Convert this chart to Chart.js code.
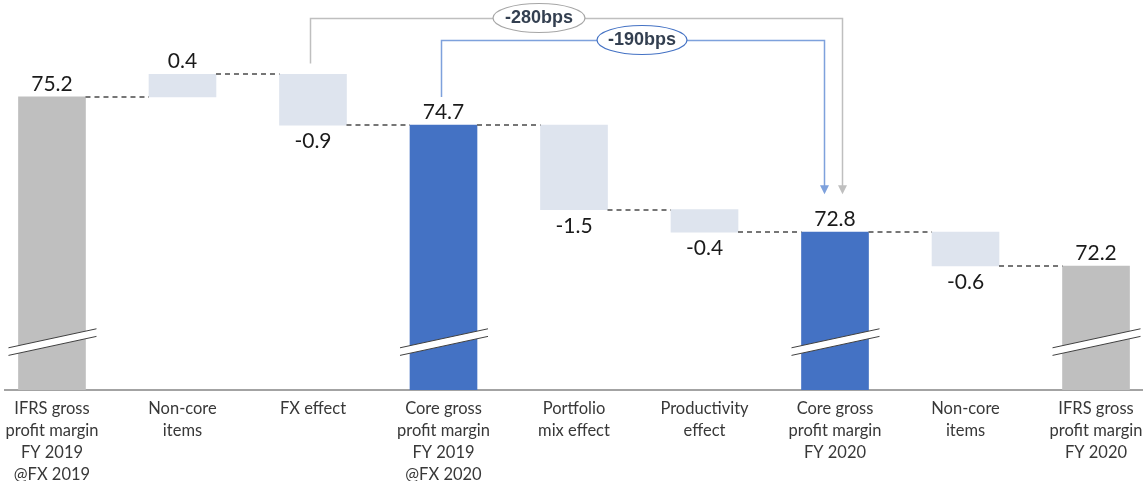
<!DOCTYPE html>
<html>
<head>
<meta charset="utf-8">
<script src="https://cdn.jsdelivr.net/npm/chart.js@4/dist/chart.umd.min.js"></script>
<style>
    html, body { margin: 0; padding: 0; background: #fff; }
    #wrap { width: 1143px; height: 481px; }
</style>
</head>
<body>
<div id="wrap"><canvas id="marginBridge" width="1143" height="481"></canvas></div>
<script>
// Gross margin bridge, FY 2019 -> FY 2020 (in %)
const categories = [
    ['IFRS gross', 'profit margin', 'FY 2019', '@FX 2019'],
    ['Non-core', 'items'],
    ['FX effect'],
    ['Core gross', 'profit margin', 'FY 2019', '@FX 2020'],
    ['Portfolio', 'mix effect'],
    ['Productivity', 'effect'],
    ['Core gross', 'profit margin', 'FY 2020'],
    ['Non-core', 'items'],
    ['IFRS gross', 'profit margin', 'FY 2020']
];
const values = [75.2, 0.4, -0.9, 74.7, -1.5, -0.4, 72.8, -0.6, 72.2];
const barKinds = ['total', 'delta', 'delta', 'core', 'delta', 'delta', 'core', 'delta', 'total'];
const axisFloor = 70;
const bridgeLabels = ['-280bps', '-190bps'];
const bridgeFrom = [2, 3];
const bridgeTo = [6, 6];

const kindColors = { total: '#bfbfbf', core: '#4472c4', delta: '#dee4ee' };

// running level -> floating spans
let level = 0;
const spans = [];
const levels = [];
values.forEach((v, i) => {
    if (barKinds[i] === 'delta') {
        spans.push([level, level + v]);
        level += v;
    } else {
        spans.push([axisFloor, v]);
        level = v;
    }
    levels.push(level);
});

const labelAbove = (i) => barKinds[i] !== 'delta' || values[i] > 0;

const waterfallExtras = {
    id: 'waterfallExtras',
    afterDatasetsDraw(chart) {
        const ctx = chart.ctx;
        const yScale = chart.scales.y;
        const bars = chart.getDatasetMeta(0).data;
        const half = (el) => el.width / 2;

        ctx.save();

        // dashed connectors between bars
        ctx.strokeStyle = '#767676';
        ctx.lineWidth = 2;
        ctx.setLineDash([5, 4]);
        for (let i = 0; i < bars.length - 1; i++) {
            const y = Math.round(yScale.getPixelForValue(levels[i]));
            ctx.beginPath();
            ctx.moveTo(bars[i].x + half(bars[i]), y);
            ctx.lineTo(bars[i + 1].x - half(bars[i + 1]), y);
            ctx.stroke();
        }
        ctx.setLineDash([]);

        // axis break marks on the full bars
        const breakY = yScale.getPixelForValue(70.85);
        bars.forEach((el, i) => {
            if (barKinds[i] === 'delta') return;
            const x0 = el.x - half(el) - 10, x1 = el.x + half(el) + 11;
            const dy = 9.5, gap = 3.8;
            ctx.beginPath();
            ctx.moveTo(x0, breakY + dy - gap);
            ctx.lineTo(x1, breakY - dy - gap);
            ctx.lineTo(x1, breakY - dy + gap);
            ctx.lineTo(x0, breakY + dy + gap);
            ctx.closePath();
            ctx.fillStyle = '#fff';
            ctx.fill();
            ctx.strokeStyle = '#404040';
            ctx.lineWidth = 1;
            ctx.beginPath();
            ctx.moveTo(x0, breakY + dy - gap);
            ctx.lineTo(x1, breakY - dy - gap);
            ctx.moveTo(x0, breakY + dy + gap);
            ctx.lineTo(x1, breakY - dy + gap);
            ctx.stroke();
        });

        // value labels
        ctx.font = '21px Lato';
        ctx.fillStyle = '#1a1a1a';
        ctx.textAlign = 'center';
        ctx.textBaseline = 'alphabetic';
        bars.forEach((el, i) => {
            const top = Math.min(el.y, el.base);
            const bottom = Math.max(el.y, el.base);
            const txt = values[i].toFixed(1);
            if (labelAbove(i)) ctx.fillText(txt, el.x, top - 6);
            else ctx.fillText(txt, el.x, bottom + 23);
        });

        // bps brackets
        const styles = [
            { color: '#bfbfbf', ring: '#a6a6a6', topY: 18.5, endDx: 7, rx: 46, ry: 14.5, cx: 539 },
            { color: '#7ea1dc', ring: '#4472c4', topY: 40.5, endDx: -11, rx: 45, ry: 14.5, cx: 642 }
        ];
        const tipY = yScale.getPixelForValue(values[6]) - 38;
        bridgeLabels.forEach((label, k) => {
            const s = styles[k];
            const a = bars[bridgeFrom[k]], b = bars[bridgeTo[k]];
            const startTop = Math.min(a.y, a.base) - (labelAbove(bridgeFrom[k]) ? 28 : 11);
            const xa = Math.round(a.x) - 1.5 + (k === 0 ? -1 : 0);
            const xb = Math.round(b.x + s.endDx) + 0.5;
            ctx.strokeStyle = s.color;
            ctx.lineWidth = 1.5;
            ctx.beginPath();
            ctx.moveTo(xa, startTop);
            ctx.lineTo(xa, s.topY);
            ctx.lineTo(xb, s.topY);
            ctx.lineTo(xb, tipY - 7);
            ctx.stroke();
            ctx.fillStyle = s.color;
            ctx.beginPath();
            ctx.moveTo(xb - 4.5, tipY - 9);
            ctx.lineTo(xb + 4.5, tipY - 9);
            ctx.lineTo(xb, tipY);
            ctx.closePath();
            ctx.fill();

            ctx.beginPath();
            ctx.ellipse(s.cx, s.topY - 0.5, s.rx, s.ry, 0, 0, Math.PI * 2);
            ctx.fillStyle = '#fff';
            ctx.fill();
            ctx.strokeStyle = s.ring;
            ctx.lineWidth = 1.2;
            ctx.stroke();
            ctx.font = 'bold 18px "Liberation Sans"';
            ctx.fillStyle = '#333f50';
            ctx.textBaseline = 'middle';
            ctx.fillText(label, s.cx, s.topY);
        });

        ctx.restore();
    }
};

new Chart(document.getElementById('marginBridge'), {
    type: 'bar',
    data: {
        datasets: [{
            data: spans.map((s, i) => ({ x: i, y: s })),
            backgroundColor: barKinds.map(k => kindColors[k]),
            borderWidth: 0,
            barThickness: 67,
            grouped: false
        }]
    },
    options: {
        responsive: false,
        animation: false,
        layout: { padding: { left: 5, right: 0, top: 0, bottom: 0 } },
        plugins: {
            legend: { display: false },
            tooltip: { enabled: false }
        },
        scales: {
            x: {
                type: 'linear',
                offset: false,
                min: -0.36,
                max: 8.36,
                grid: { display: false, drawTicks: false, offset: false },
                border: { display: true, color: '#a3a3a3', width: 2 },
                afterBuildTicks: (scale) => {
                    scale.ticks = categories.map((_, i) => ({ value: i }));
                },
                afterFit: (scale) => {
                    scale.height = 91;
                    // labels fit inside the axis span, no extra side padding
                    scale.paddingLeft = 0;
                    scale.paddingRight = 0;
                },
                ticks: {
                    callback: (v) => categories[v],
                    font: { family: 'Lato', size: 16.5, lineHeight: 1.32 },
                    color: '#383838',
                    padding: 8,
                    maxRotation: 0,
                    autoSkip: false
                }
            },
            y: {
                display: false,
                min: axisFloor,
                max: 76.92
            }
        }
    },
    plugins: [waterfallExtras]
});
</script>
</body>
</html>
